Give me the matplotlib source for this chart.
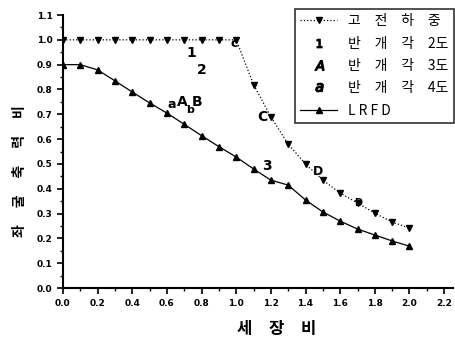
import matplotlib
matplotlib.use("Agg")
import matplotlib.pyplot as plt
from matplotlib.lines import Line2D
from matplotlib.ticker import MultipleLocator

plt.rcParams['font.family'] = ['Noto Sans CJK KR', 'DejaVu Sans']

# 세장비
x_classic = [0.0, 0.1, 0.2, 0.3, 0.4, 0.5, 0.6, 0.7, 0.8, 0.9, 1.0,
             1.1, 1.2, 1.3, 1.4, 1.5, 1.6, 1.7, 1.8, 1.9, 2.0]
y_classic = [1.0, 1.0, 1.0, 1.0, 1.0, 1.0, 1.0, 1.0, 1.0, 1.0, 1.0,
             0.82, 0.69, 0.58, 0.50, 0.435, 0.383, 0.343, 0.302, 0.266, 0.242]

x_lrfd = [0.0, 0.1, 0.2, 0.3, 0.4, 0.5, 0.6, 0.7, 0.8, 0.9, 1.0,
          1.1, 1.2, 1.3, 1.4, 1.5, 1.6, 1.7, 1.8, 1.9, 2.0]
y_lrfd = [0.9, 0.9, 0.879, 0.835, 0.79, 0.746, 0.705, 0.66, 0.614, 0.57, 0.528,
          0.48, 0.435, 0.415, 0.355, 0.307, 0.27, 0.238, 0.214, 0.19, 0.169]

# 반개각 표시 문자
marks = [("1", 0.74, 0.948, 10), ("2", 0.80, 0.879, 10),
         ("a", 0.63, 0.738, 9), ("A", 0.69, 0.748, 10),
         ("b", 0.735, 0.718, 8), ("B", 0.775, 0.748, 10),
         ("c", 0.99, 0.985, 9), ("C", 1.15, 0.69, 10),
         ("3", 1.18, 0.49, 10), ("D", 1.47, 0.468, 9),
         ("D", 1.705, 0.343, 7)]

sp = "\u3000"
legend_labels = [sp.join("고전하중"), sp.join(["반", "개", "각", "2도"]),
                 sp.join(["반", "개", "각", "3도"]), sp.join(["반", "개", "각", "4도"]),
                 " ".join("LRFD")]

fig = plt.figure(figsize=(4.56, 3.41), dpi=100)
ax = fig.add_axes([0.138, 0.155, 0.855, 0.801])

ax.plot(x_classic, y_classic, color='black', linestyle=':', linewidth=0.9,
        marker='v', markersize=5)
ax.plot(x_lrfd, y_lrfd, color='black', linestyle='-', linewidth=0.9,
        marker='^', markersize=5)

for s, tx, ty, fs in marks:
    ax.text(tx, ty, s, fontsize=fs, fontweight='bold', family='DejaVu Sans',
            ha='center', va='center')

ax.set_xlim(0, 2.25)
ax.set_ylim(0, 1.1)
ax.xaxis.set_minor_locator(MultipleLocator(0.1))
ax.yaxis.set_major_locator(MultipleLocator(0.1))
ax.yaxis.set_minor_locator(MultipleLocator(0.05))
ax.set_xticks([0.0, 0.2, 0.4, 0.6, 0.8, 1.0, 1.2, 1.4, 1.6, 1.8, 2.0, 2.2])

ax.spines['top'].set_visible(False)
ax.spines['right'].set_visible(False)
ax.spines['left'].set_linewidth(1.5)
ax.spines['bottom'].set_linewidth(1.5)
ax.tick_params(which='major', direction='out', length=4, width=1.2, labelsize=6.5)
ax.tick_params(which='minor', direction='out', length=2, width=1)
ax.xaxis.set_major_formatter(plt.FuncFormatter(lambda v, p: f"{v:.1f}"))
ax.yaxis.set_major_formatter(plt.FuncFormatter(lambda v, p: f"{v:.1f}"))
for lab in ax.get_xticklabels() + ax.get_yticklabels():
    lab.set_fontweight('bold')
    lab.set_family('DejaVu Sans')

ax.set_xlabel(sp.join("세장비"), fontsize=12, fontweight='bold')
ax.xaxis.set_label_coords(0.549, -0.115)
ax.set_ylabel((sp + " ").join("좌굴축력비"), fontsize=10, fontweight='bold',
              va='center')
ax.yaxis.set_label_coords(-0.11, 0.43)

handles = [
    Line2D([], [], color='black', linestyle=':', linewidth=0.9, marker='v', markersize=5),
    Line2D([], [], color='black', linestyle='none', marker='$1$', markersize=6),
    Line2D([], [], color='black', linestyle='none', marker='$A$', markersize=7),
    Line2D([], [], color='black', linestyle='none', marker='$a$', markersize=6),
    Line2D([], [], color='black', linestyle='-', linewidth=0.9, marker='^', markersize=5),
]
leg = fig.legend(handles, legend_labels, loc='upper right',
                 bbox_to_anchor=(1.01, 0.995), fontsize=10, frameon=True,
                 fancybox=False, edgecolor='black', handlelength=2.6,
                 labelspacing=0.6, borderpad=0.4, handletextpad=0.8)
leg.get_frame().set_linewidth(1.2)

fig.savefig("out.png", dpi=100)
